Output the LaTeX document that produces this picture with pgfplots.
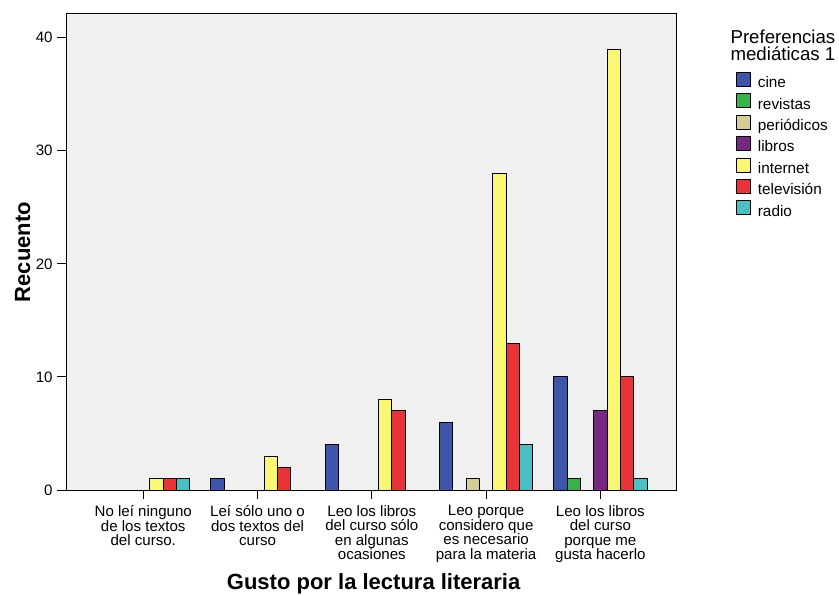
\documentclass[border=0pt]{standalone}
\usepackage{fontspec}
\setmainfont{Liberation Sans}
\usepackage{pgfplots}
\pgfplotsset{compat=1.18}
\definecolor{cCine}{RGB}{62,86,170}
\definecolor{cRevistas}{RGB}{58,178,74}
\definecolor{cPeriodicos}{RGB}{212,206,150}
\definecolor{cLibros}{RGB}{120,40,128}
\definecolor{cInternet}{RGB}{250,247,115}
\definecolor{cTele}{RGB}{232,52,57}
\definecolor{cRadio}{RGB}{74,192,196}
\definecolor{cBack}{RGB}{240,240,240}
\begin{document}
\begin{tikzpicture}[x=1pt,y=1pt]
\useasboundingbox (-50,-79.5) rectangle (579.25,367.5);
\begin{axis}[
  at={(0,0)}, anchor=south west,
  scale only axis, width=457.7pt, height=357pt,
  xmin=-0.67, xmax=4.67, ymin=0, ymax=42.1,
  ybar=0pt, bar width=0.1167,
  legend image code/.code={\draw[#1, line width=0.75pt] (0pt,-2pt) rectangle (10.5pt,8.5pt);},
  axis background/.style={fill=cBack},
  axis line style={black, line width=0.75pt},
  xtick={0,1,2,3,4},
  xticklabels={{No leí ninguno\\de los textos\\del curso.},{Leí sólo uno o\\dos textos del\\curso},{Leo los libros\\del curso sólo\\en algunas\\ocasiones},{Leo porque\\considero que\\es necesario\\para la materia},{Leo los libros\\del curso\\porque me\\gusta hacerlo}},
  ytick={0,10,20,30,40},
  tick align=outside, major tick length=7pt,
  tick style={black, line width=0.75pt},
  xtick pos=bottom, ytick pos=left,
  /pgf/number format/assume math mode=true,
  xticklabel style={align=center, font=\fontsize{11.3}{10.9}\selectfont, anchor=north, yshift=-1pt},
  yticklabel style={font=\fontsize{11.3}{13}\selectfont},
  xlabel={Gusto por la lectura literaria},
  ylabel={Recuento},
  xlabel style={font=\bfseries\fontsize{16.5}{18}\selectfont, at={(axis description cs:0.503,-0.197)}, anchor=center},
  ylabel style={font=\bfseries\fontsize{16.5}{18}\selectfont, at={(axis description cs:-0.072,0.5)}, anchor=center},
  every axis plot/.append style={draw=black, line width=0.75pt},
  legend style={at={(rel axis cs:1.0967,0.879)}, anchor=north west, draw=none, fill=none,
    inner sep=0pt, row sep=1.7pt, column sep=5pt, font=\fontsize{11.5}{13}\selectfont,
    nodes={inner sep=0pt, text height=8.5pt, text depth=2.5pt}},
  legend cell align=left,
  clip=false,
]
\addplot[fill=cCine, bar shift=-0.35] coordinates {(1,1) (2,4) (3,6) (4,10)};
\addplot[fill=cRevistas, bar shift=-0.2333] coordinates {(4,1)};
\addplot[fill=cPeriodicos, bar shift=-0.1167] coordinates {(3,1)};
\addplot[fill=cLibros, bar shift=0] coordinates {(4,7)};
\addplot[fill=cInternet, bar shift=0.1167] coordinates {(0,1) (1,3) (2,8) (3,28) (4,39)};
\addplot[fill=cTele, bar shift=0.2333] coordinates {(0,1) (1,2) (2,7) (3,13) (4,10)};
\addplot[fill=cRadio, bar shift=0.35] coordinates {(0,1) (3,4) (4,1)};
\legend{cine,revistas,periódicos,libros,internet,televisión,radio}
\node[align=center, font=\fontsize{14}{12.5}\selectfont] at (rel axis cs:1.1737,0.9345) {Preferencias\\mediáticas 1};
\end{axis}
\end{tikzpicture}
\end{document}
